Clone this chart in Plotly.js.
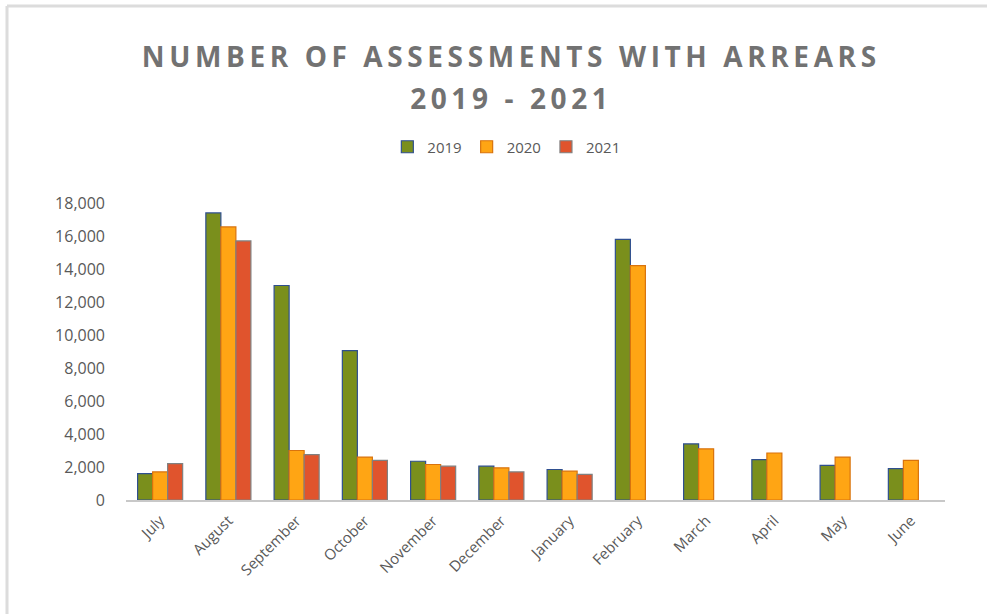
<!DOCTYPE html>
<html>
<head>
<meta charset="utf-8">
<script src="https://cdn.plot.ly/plotly-3.0.1.min.js"></script>
<style>
html, body { margin: 0; padding: 0; background: #ffffff; }
#chart { width: 987px; height: 614px; }
.gtitle { letter-spacing: 4.6px; }
</style>
</head>
<body>
<div id="chart"></div>
<script>
// ---- data ----
const months = ["July", "August", "September", "October", "November", "December",
                "January", "February", "March", "April", "May", "June"];
const seriesNames = ["2019", "2020", "2021"];
const values2019 = [1600, 17400, 13000, 9050, 2350, 2050, 1850, 15800, 3400, 2450, 2100, 1900];
const values2020 = [1700, 16550, 3000, 2600, 2150, 1950, 1750, 14200, 3100, 2850, 2600, 2400];
const values2021 = [2200, 15700, 2750, 2400, 2050, 1700, 1550, null, null, null, null, null];
const yTickValues = [0, 2000, 4000, 6000, 8000, 10000, 12000, 14000, 16000, 18000];
const titleText = "NUMBER OF ASSESSMENTS WITH ARREARS<br>2019 - 2021";

// ---- style ----
const W = 987, H = 614;
const M = { l: 126, r: 42, t: 203, b: 114 };
const fillColors = ["#7a8f1c", "#ffa514", "#e0542d"];
const edgeColors = ["#2f4f8f", "#d9730d", "#808080"];
const textGray = "#595959";
const FONT = "'Open Sans', 'DejaVu Sans', sans-serif";

const allValues = [values2019, values2020, values2021];
const traces = seriesNames.map((name, i) => ({
  type: "bar",
  name: name,
  x: months,
  y: allValues[i],
  marker: { color: fillColors[i], line: { color: edgeColors[i], width: 1.2 } },
  hoverinfo: "x+y+name"
}));

// frame lines (chart border) expressed in paper coordinates
const pw = W - M.l - M.r, ph = H - M.t - M.b;
const px = v => (v - M.l) / pw;
const py = v => (H - M.b - v) / ph;

const layout = {
  width: W, height: H,
  margin: M,
  paper_bgcolor: "#ffffff",
  plot_bgcolor: "#ffffff",
  font: { family: FONT, color: textGray, size: 15 },
  title: {
    text: titleText,
    font: { family: FONT, size: 28, color: "#727272", weight: "bold" },
    xref: "container", x: 0.518, xanchor: "center",
    yref: "container", y: 1 - 67 / H, yanchor: "top"
  },
  barmode: "group",
  bargap: 0.34,
  bargroupgap: 0,
  showlegend: true,
  legend: {
    orientation: "h",
    xref: "container", x: 0.513, xanchor: "center",
    yref: "container", y: 1 - 147 / H, yanchor: "middle",
    font: { family: FONT, size: 15, color: textGray },
    itemwidth: 30,
    traceorder: "normal"
  },
  xaxis: {
    type: "category",
    tickangle: -45,
    showgrid: false,
    showline: true,
    linecolor: "#c8c8c8",
    linewidth: 2,
    ticks: "",
    ticklabelstandoff: 4,
    tickfont: { family: FONT, size: 15, color: textGray },
    zeroline: false
  },
  yaxis: {
    range: [0, 18000],
    tickvals: yTickValues,
    tickformat: ",d",
    showgrid: false,
    showline: false,
    zeroline: false,
    ticks: "",
    ticklabelstandoff: 20,
    tickfont: { family: FONT, size: 16, color: textGray }
  },
  shapes: [
    { type: "line", xref: "paper", yref: "paper", x0: px(7), x1: px(7), y0: py(6), y1: py(H + 5),
      line: { color: "#dcdcdc", width: 3 } },
    { type: "line", xref: "paper", yref: "paper", x0: px(7), x1: px(W + 5), y0: py(6), y1: py(6),
      line: { color: "#dcdcdc", width: 3 } }
  ]
};

Plotly.newPlot("chart", traces, layout, { displayModeBar: false, staticPlot: true }).then(gd => {
  // widen the gap between the two title lines to match the reference
  const lines = gd.querySelectorAll(".gtitle tspan.line");
  if (lines.length > 1) {
    for (let k = 1; k < lines.length; k++) lines[k].setAttribute("dy", "1.5em");
  }
});
</script>
</body>
</html>
